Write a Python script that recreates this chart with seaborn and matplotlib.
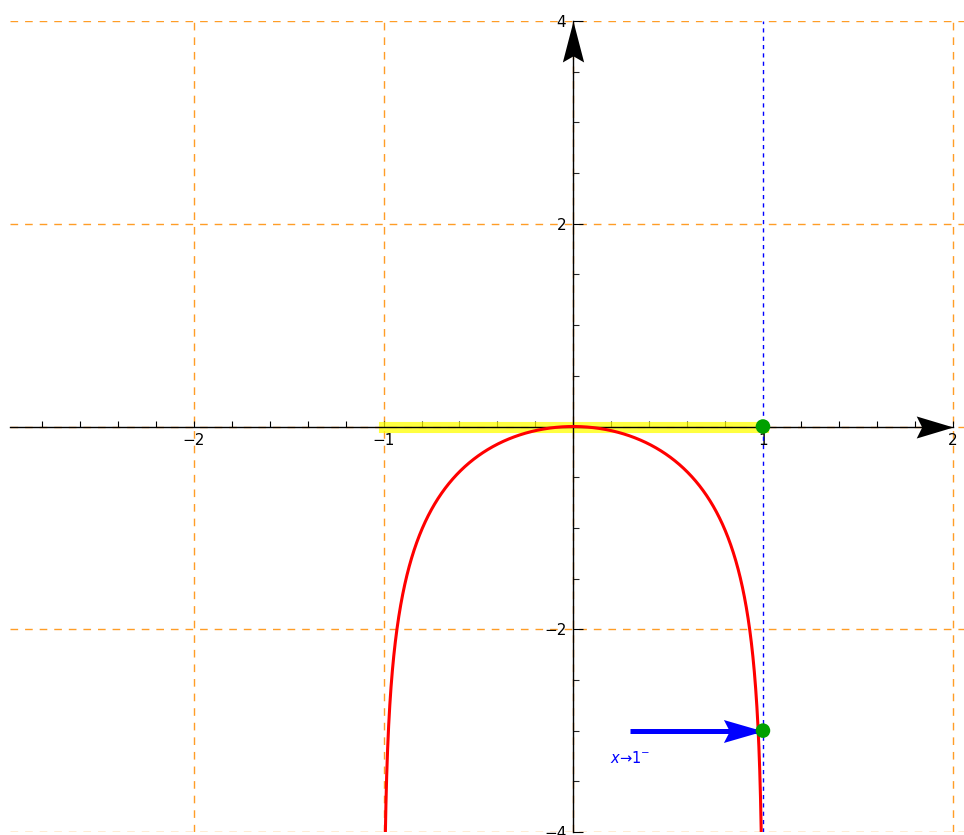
import numpy as np
import matplotlib
matplotlib.use("Agg")
import matplotlib.pyplot as plt
import seaborn as sns
from matplotlib.markers import MarkerStyle
from matplotlib.path import Path
from matplotlib.transforms import Affine2D
from matplotlib.ticker import MultipleLocator, FixedLocator

# data
x_limits = [-2.97, 2.06]
y_limits = [-4, 4]
grid_x = [-2, -1, 0, 2]
grid_y = [-4, -2, 0, 2, 4]
x_labels = [-2, -1, 1, 2]
y_labels = [-4, -2, 2, 4]
domain = [-1, 1]              # yellow interval on the x-axis
asymptote_x = 1
point_x = [1, 1]
point_y = [0, -3]
approach_from = 0.3           # start of blue arrow
approach_y = -3
approach_text = r"$x$→1$^{-}$"


def f(x):
    # y = ln(1 - x^2)
    return np.log(1 - x ** 2)


def arrow_head(half_width, angle=0):
    # stealth-like head, tip at the origin, pointing right before rotation
    verts = [(0, 0), (-1, half_width), (-0.85, 0), (-1, -half_width), (0, 0)]
    codes = [Path.MOVETO, Path.LINETO, Path.LINETO, Path.LINETO, Path.CLOSEPOLY]
    return MarkerStyle(Path(verts, codes), transform=Affine2D().rotate_deg(angle))


sns.set_style("white")
plt.rcParams["font.family"] = ["DejaVu Sans"]

fig = plt.figure(figsize=(9.64, 8.35), dpi=100)
ax = fig.add_axes([10 / 964, 3 / 835, 954 / 964, 811 / 835])
ax.set_xlim(*x_limits)
ax.set_ylim(*y_limits)

# dashed grid
for gx in grid_x:
    ax.axvline(gx, color="darkorange", lw=1, ls=(0, (5.5, 5)), alpha=0.85, zorder=0)
for gy in grid_y:
    ax.axhline(gy, color="darkorange", lw=1, ls=(0, (5.5, 5)), alpha=0.85, zorder=0)
ax.axvline(asymptote_x, color="blue", lw=1, ls=(0, (3, 3)), zorder=1)

# axes through origin
for side in ["top", "right"]:
    ax.spines[side].set_visible(False)
ax.spines["left"].set_position(("data", 0))
ax.spines["bottom"].set_position(("data", 0))
ax.spines["bottom"].set_bounds(x_limits[0], 2)
for side in ["left", "bottom"]:
    ax.spines[side].set_color("black")
    ax.spines[side].set_linewidth(1)
    ax.spines[side].set_zorder(2)

ax.xaxis.set_major_locator(FixedLocator(x_labels))
ax.xaxis.set_minor_locator(MultipleLocator(0.2))
ax.yaxis.set_major_locator(FixedLocator(y_labels))
ax.yaxis.set_minor_locator(MultipleLocator(0.5))
ax.set_xticklabels([f"\u2212{-v}" if v < 0 else str(v) for v in x_labels])
ax.set_yticklabels([f"\u2212{-v}" if v < 0 else str(v) for v in y_labels])
ax.tick_params(axis="x", which="both", direction="in", bottom=True, top=False,
               length=4, width=0.8, colors="black", labelsize=11, pad=5)
ax.tick_params(axis="y", which="major", direction="in", left=True, right=False,
               length=7, width=0.8, colors="black", labelsize=11, pad=5)
ax.tick_params(axis="y", which="minor", direction="in", left=True, length=4, width=0.8)

# axis arrow heads
ax.plot([2], [0], marker=arrow_head(0.3), ms=53, color="black", mec="none",
        clip_on=False, zorder=5)
ax.plot([0], [4], marker=arrow_head(0.26, 90), ms=59, color="black", mec="none",
        clip_on=False, zorder=5)

# yellow domain highlight
ax.plot(domain, [0, 0], color="yellow", lw=8, alpha=0.75, solid_capstyle="projecting",
        zorder=1.5)

# the curve
xs = np.linspace(-0.99999, 0.99999, 4001)
sns.lineplot(x=xs, y=f(xs), color="red", lw=2.2, ax=ax, zorder=3, sort=False)

# blue approach arrow
ax.plot([approach_from, 1], [approach_y, approach_y], color="blue", lw=3.6,
        solid_capstyle="butt", zorder=4)
ax.plot([1], [approach_y], marker=arrow_head(0.29), ms=57, color="blue", mec="none",
        zorder=4)
ax.text(approach_from, approach_y - 0.27, approach_text, color="blue",
        ha="center", va="center", fontsize=10.5)

# green points
sns.scatterplot(x=point_x, y=point_y, color="#00a000", s=110, edgecolor="none",
                ax=ax, zorder=6, clip_on=False)

fig.savefig("out.png", dpi=100)
